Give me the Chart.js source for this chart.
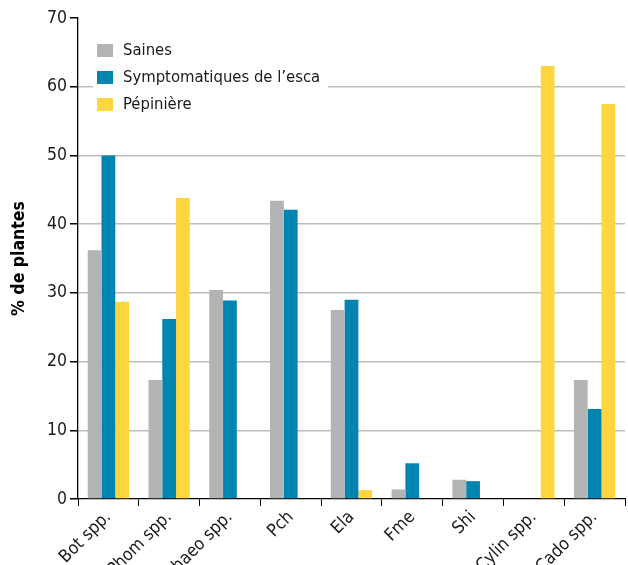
<!DOCTYPE html>
<html>
<head>
<meta charset="utf-8">
<script src="https://cdn.jsdelivr.net/npm/chart.js@4/dist/chart.umd.min.js"></script>
<style>
  body { margin: 0; background: #fff; }
  #wrap { width: 628px; height: 565px; }
</style>
</head>
<body>
<div id="wrap"><canvas id="myChart"></canvas></div>
<script>
// categories et valeurs
var categories = ['Bot spp.', 'Phom spp.', 'Phaeo spp.', 'Pch', 'Ela', 'Fme', 'Shi', 'Cylin spp.', 'Cado spp.'];
var saines = [36.2, 17.3, 30.4, 43.4, 27.5, 1.4, 2.8, 0, 17.3];
var symptomatiques = [50, 26.2, 28.9, 42.1, 29.0, 5.2, 2.6, 0, 13.1];
var pepiniere = [28.7, 43.8, 0, 0, 1.3, 0, 0, 63, 57.5];
var yTicks = [0, 10, 20, 30, 40, 50, 60, 70];

var police = "'DejaVu Sans Condensed', 'Liberation Sans Narrow', sans-serif";

// légende dessinée à la main dans la zone du graphique
var legendePlugin = {
    id: 'legendeInterne',
    afterDatasetsDraw: function (chart) {
        var c = chart.ctx;
        c.save();
        c.fillStyle = '#fff';
        c.fillRect(93, 36, 235, 80);
        chart.data.datasets.forEach(function (ds, i) {
            var y = 50 + i * 27;
            c.fillStyle = ds.backgroundColor;
            c.fillRect(97, y - 6, 16, 13);
            c.fillStyle = '#1a1a1a';
            c.font = '16.5px ' + police;
            c.textBaseline = 'middle';
            c.fillText(ds.label, 123, y + 1);
        });
        c.restore();
    }
};

var ctx = document.getElementById('myChart').getContext('2d');
var chart = new Chart(ctx, {
    type: 'bar',
    data: {
        labels: categories,
        datasets: [
            { label: 'Saines', data: saines, backgroundColor: '#b2b3b5' },
            { label: 'Symptomatiques de l\u2019esca', data: symptomatiques, backgroundColor: '#0084b0' },
            { label: 'Pépinière', data: pepiniere, backgroundColor: '#fdd640' }
        ]
    },
    options: {
        responsive: true,
        maintainAspectRatio: false,
        animation: false,
        devicePixelRatio: 1,
        layout: { padding: { top: 18, right: 3, left: 0, bottom: 0 } },
        datasets: { bar: { categoryPercentage: 0.68, barPercentage: 1 } },
        plugins: {
            legend: { display: false },
            tooltip: { enabled: false }
        },
        scales: {
            x: {
                grid: { display: true, drawOnChartArea: false, offset: true, color: '#000', tickLength: 7 },
                border: { color: '#000', width: 1.3 },
                ticks: {
                    color: '#1a1a1a',
                    font: { family: police, size: 17.5 },
                    minRotation: 45,
                    maxRotation: 45,
                    padding: 1
                },
                afterFit: function (s) { s.height = 66; }
            },
            y: {
                min: 0,
                max: 70,
                afterBuildTicks: function (s) { s.ticks = yTicks.map(function (v) { return { value: v }; }); },
                grid: {
                    color: function (c) { return (c.tick && c.tick.value > 0 && c.tick.value < 70) ? '#bdbdbd' : 'rgba(0,0,0,0)'; },
                    tickColor: '#000',
                    tickLength: 8,
                    lineWidth: 1.5
                },
                border: { color: '#000', width: 1.3 },
                ticks: {
                    color: '#1a1a1a',
                    font: { family: police, size: 17.5 },
                    padding: 3
                },
                title: {
                    display: true,
                    text: '% de plantes',
                    color: '#000',
                    font: { family: police, size: 17.5, weight: 'bold' },
                    padding: { top: 9, bottom: 0 }
                },
                afterFit: function (s) { s.width = 78; }
            }
        }
    },
    plugins: [legendePlugin]
});
</script>
</body>
</html>
